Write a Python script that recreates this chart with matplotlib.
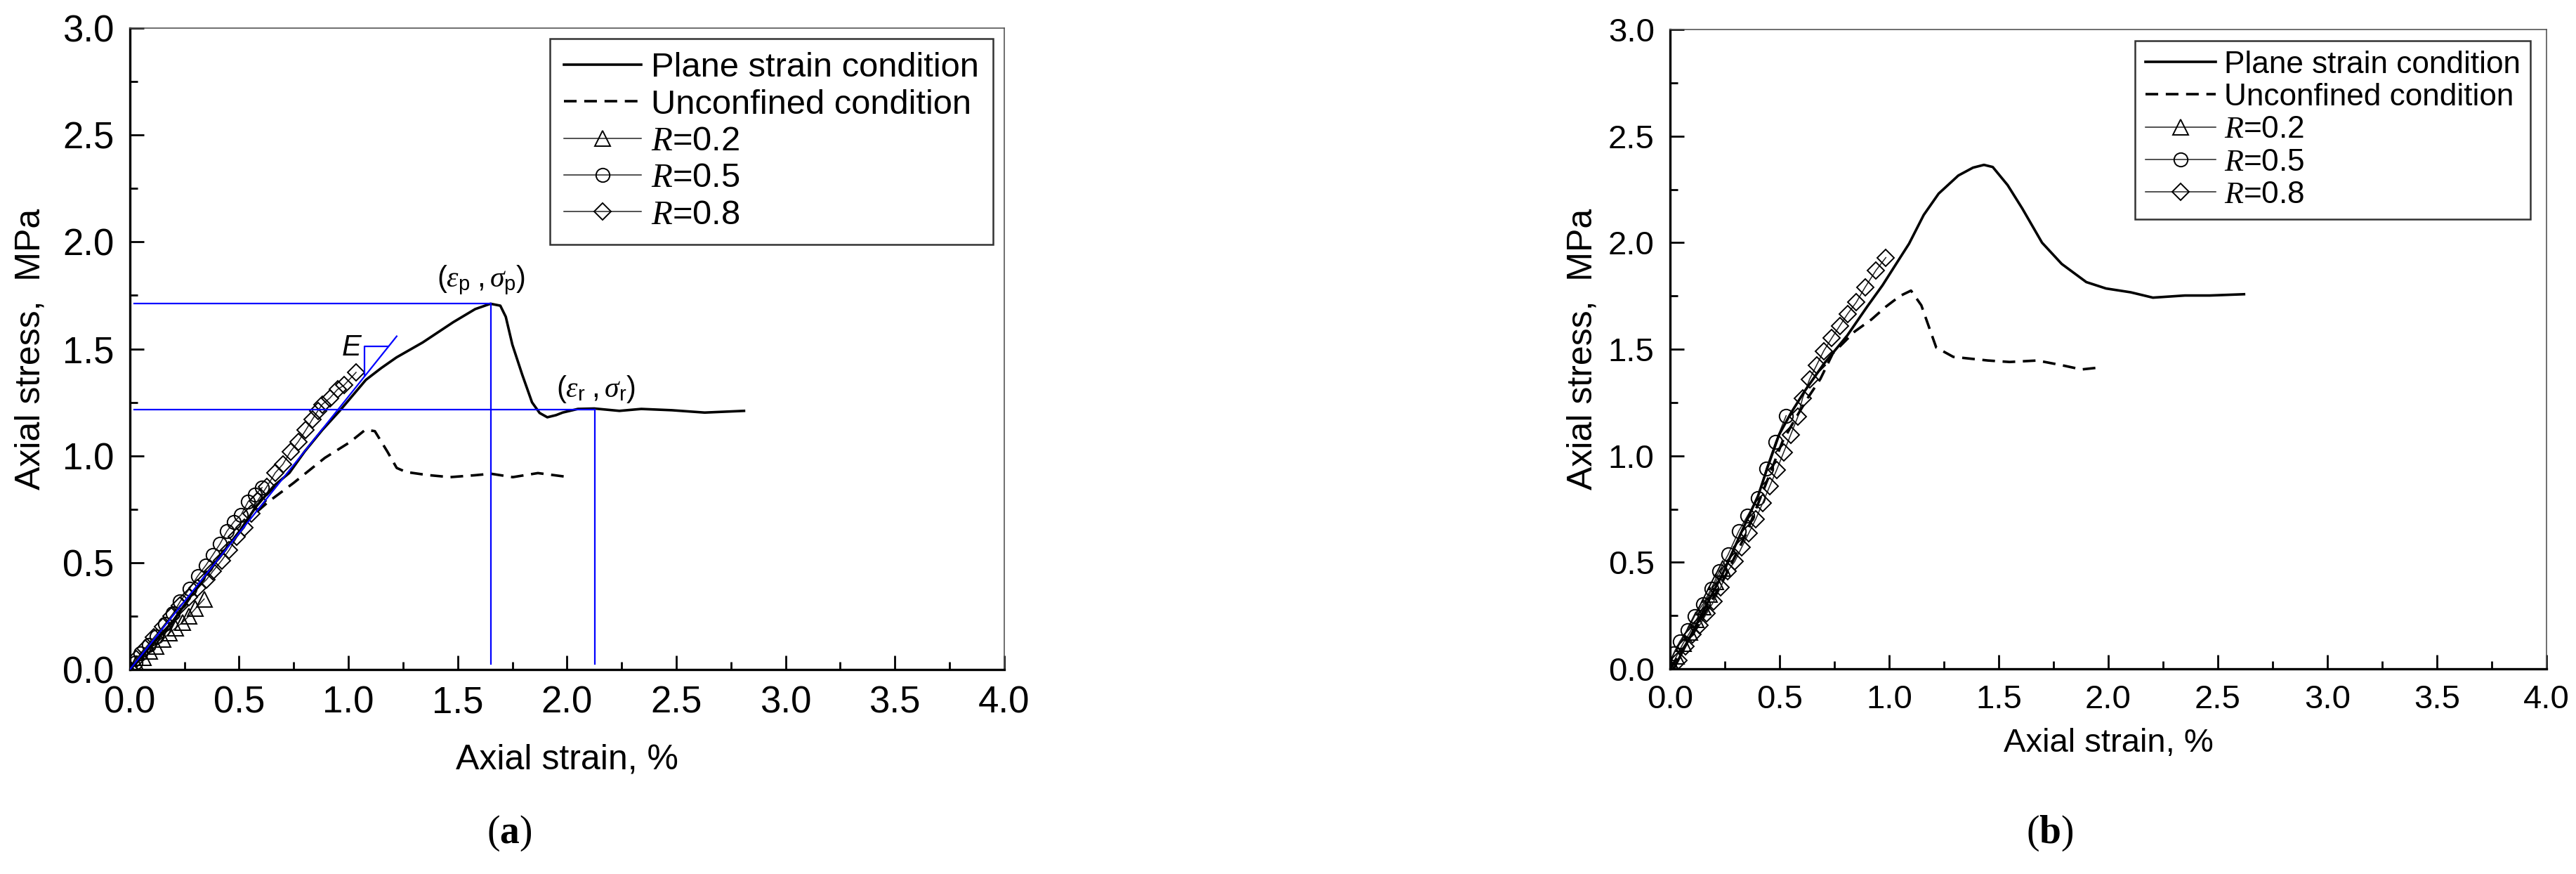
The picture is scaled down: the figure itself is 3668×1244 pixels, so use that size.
import matplotlib
matplotlib.use("Agg")
import matplotlib.pyplot as plt
from matplotlib.ticker import MultipleLocator, FormatStrFormatter

plt.rcParams.update({
    'font.family': 'Liberation Sans',
    'mathtext.fontset': 'custom',
    'mathtext.rm': 'Liberation Sans',
    'mathtext.it': 'Liberation Serif:italic',
    'mathtext.bf': 'Liberation Serif:bold',
})

# ---- panel (a) data: strain (%) / stress (MPa) ----
a_plane_x = [0, 0.10, 0.20, 0.36, 0.50, 0.58, 0.66, 0.73, 0.80, 0.88, 0.96, 1.08, 1.15, 1.22,
             1.34, 1.48, 1.58, 1.65, 1.695, 1.72, 1.75, 1.795, 1.84, 1.875, 1.91, 1.95, 1.98,
             2.05, 2.125, 2.24, 2.34, 2.48, 2.63, 2.81]
a_plane_y = [0, 0.115, 0.23, 0.46, 0.645, 0.765, 0.86, 0.92, 1.02, 1.12, 1.21, 1.355, 1.41, 1.46,
             1.53, 1.625, 1.686, 1.711, 1.702, 1.65, 1.52, 1.38, 1.25, 1.20, 1.18, 1.19, 1.202,
             1.219, 1.221, 1.21, 1.219, 1.213, 1.202, 1.21]

a_unconf_x = [0, 0.2, 0.4, 0.55, 0.633, 0.748, 0.892, 1.006, 1.078, 1.121, 1.178, 1.221, 1.264,
              1.36, 1.465, 1.58, 1.652, 1.752, 1.867, 2.01]
a_unconf_y = [0, 0.23, 0.51, 0.71, 0.784, 0.872, 0.99, 1.063, 1.122, 1.115, 1.02, 0.943, 0.924,
              0.91, 0.90, 0.909, 0.916, 0.90, 0.919, 0.90]

a_r02_x = [0, 0.03, 0.06, 0.09, 0.12, 0.15, 0.18, 0.21, 0.24, 0.27, 0.30, 0.34]
a_r02_y = [0, 0.025, 0.055, 0.085, 0.11, 0.14, 0.17, 0.195, 0.22, 0.25, 0.285, 0.33]

a_r05_x = [0, 0.027, 0.048, 0.086, 0.123, 0.161, 0.198, 0.230, 0.273, 0.311, 0.348, 0.380,
           0.412, 0.444, 0.476, 0.509, 0.541, 0.573, 0.605]
a_r05_y = [0, 0.032, 0.076, 0.114, 0.153, 0.213, 0.263, 0.318, 0.378, 0.438, 0.488, 0.537,
           0.587, 0.647, 0.691, 0.724, 0.785, 0.818, 0.851]

a_r08_x = [0, 0.03, 0.07, 0.11, 0.15, 0.19, 0.23, 0.27, 0.31, 0.35, 0.38, 0.42, 0.455, 0.49,
           0.525, 0.555, 0.585, 0.627, 0.665, 0.70, 0.735, 0.77, 0.805, 0.835, 0.86, 0.88,
           0.915, 0.95, 0.98, 1.035]
a_r08_y = [0, 0.05, 0.10, 0.15, 0.20, 0.25, 0.30, 0.34, 0.38, 0.42, 0.46, 0.51, 0.56, 0.62,
           0.665, 0.73, 0.79, 0.856, 0.92, 0.96, 1.02, 1.065, 1.12, 1.17, 1.21, 1.24, 1.27,
           1.31, 1.33, 1.39]

# characteristic points in (a)
peak_strain, peak_stress = 1.652, 1.711
res_strain, res_stress = 2.128, 1.216
tangent_x = [0, 1.221]
tangent_y = [0, 1.559]
slope_x = [1.075, 1.075, 1.182]
slope_y = [1.373, 1.513, 1.513]

# ---- panel (b) data ----
b_plane_x = [0, 0.017, 0.113, 0.241, 0.338, 0.402, 0.445, 0.498, 0.551, 0.615, 0.701, 0.808,
             0.90, 0.97, 1.035, 1.091, 1.158, 1.226, 1.316, 1.383, 1.433, 1.473, 1.541, 1.608,
             1.698, 1.788, 1.90, 1.99, 2.103, 2.204, 2.35, 2.463, 2.62]
b_plane_y = [0, 0.0, 0.194, 0.448, 0.669, 0.812, 0.945, 1.099, 1.199, 1.304, 1.43, 1.563,
             1.70, 1.80, 1.905, 1.995, 2.13, 2.23, 2.315, 2.352, 2.365, 2.355, 2.27, 2.16,
             2.0, 1.90, 1.815, 1.785, 1.767, 1.742, 1.752, 1.752, 1.758]

b_unconf_x = [0, 0.12, 0.25, 0.35, 0.44, 0.513, 0.57, 0.628, 0.686, 0.743, 0.843, 0.92, 0.986,
              1.05, 1.10, 1.147, 1.181, 1.215, 1.293, 1.451, 1.55, 1.676, 1.788, 1.878, 1.968]
b_unconf_y = [0, 0.19, 0.43, 0.64, 0.874, 1.066, 1.17, 1.27, 1.36, 1.48, 1.583, 1.64, 1.70,
              1.75, 1.775, 1.706, 1.607, 1.508, 1.464, 1.447, 1.44, 1.447, 1.425, 1.405, 1.415]

b_r02_x = [0, 0.03, 0.06, 0.09, 0.12, 0.15, 0.18, 0.21, 0.24]
b_r02_y = [0, 0.06, 0.12, 0.17, 0.23, 0.29, 0.35, 0.41, 0.47]

b_r05_x = [0, 0.017, 0.044, 0.081, 0.113, 0.151, 0.188, 0.225, 0.265, 0.314, 0.354, 0.40,
           0.439, 0.482, 0.53]
b_r05_y = [0, 0.073, 0.128, 0.183, 0.249, 0.305, 0.376, 0.459, 0.536, 0.647, 0.719, 0.801,
           0.939, 1.066, 1.188]

b_r08_x = [0, 0.038, 0.071, 0.103, 0.135, 0.167, 0.199, 0.231, 0.263, 0.295, 0.327, 0.359,
           0.391, 0.423, 0.455, 0.487, 0.519, 0.551, 0.583, 0.605, 0.637, 0.669, 0.701,
           0.738, 0.775, 0.81, 0.85, 0.89, 0.94, 0.985]
b_r08_y = [0, 0.04, 0.106, 0.161, 0.205, 0.26, 0.316, 0.382, 0.459, 0.503, 0.57, 0.636,
           0.702, 0.779, 0.857, 0.934, 1.017, 1.099, 1.182, 1.27, 1.359, 1.425, 1.491,
           1.552, 1.61, 1.665, 1.72, 1.79, 1.87, 1.93]

legend_labels = ['Plane strain condition', 'Unconfined condition',
                 r'$R$=0.2', r'$R$=0.5', r'$R$=0.8']


def style_axes(ax, tick_size):
    ax.set_xlim(0, 4.0)
    ax.set_ylim(0, 3.0)
    ax.xaxis.set_major_locator(MultipleLocator(0.5))
    ax.xaxis.set_minor_locator(MultipleLocator(0.25))
    ax.yaxis.set_major_locator(MultipleLocator(0.5))
    ax.yaxis.set_minor_locator(MultipleLocator(0.25))
    ax.xaxis.set_major_formatter(FormatStrFormatter('%.1f'))
    ax.yaxis.set_major_formatter(FormatStrFormatter('%.1f'))
    ax.tick_params(which='both', direction='in', top=False, right=False,
                   width=1.0, labelsize=tick_size, pad=8)
    ax.tick_params(which='major', length=7.2)
    ax.tick_params(which='minor', length=3.8)
    for s in ('left', 'bottom'):
        ax.spines[s].set_linewidth(1.2)
    for s in ('top', 'right'):
        ax.spines[s].set_linewidth(0.6)
        ax.spines[s].set_color('#555555')


def draw_curves(ax, plane, unconf, r02, r05, r08):
    mk = dict(color='#222222', lw=0.55, mfc='none', mec='black', mew=0.7, zorder=2)
    h3, = ax.plot(*r02, marker='^', ms=8.0, **mk)
    h4, = ax.plot(*r05, marker='o', ms=7.0, **mk)
    h5, = ax.plot(*r08, marker='D', ms=6.3, **mk)
    h1, = ax.plot(*plane, color='black', lw=1.3, zorder=4)
    h2, = ax.plot(*unconf, color='black', lw=1.3, dashes=(5, 3), zorder=4)
    return [h1, h2, h3, h4, h5]


fig = plt.figure(figsize=(18.34, 6.22), dpi=200)
ax1 = fig.add_axes([0.0504, 0.2339, 0.3394, 0.7339])
ax2 = fig.add_axes([0.6483, 0.2347, 0.3402, 0.7315])

# panel (a)
handles = draw_curves(ax1, (a_plane_x, a_plane_y), (a_unconf_x, a_unconf_y),
                      (a_r02_x, a_r02_y), (a_r05_x, a_r05_y), (a_r08_x, a_r08_y))
blue = dict(color='#0000ff', lw=0.8, zorder=5)
ax1.plot([0.02, peak_strain], [peak_stress, peak_stress], **blue)
ax1.plot([peak_strain, peak_strain], [0.025, peak_stress], **blue)
ax1.plot([0.02, res_strain], [res_stress, res_stress], **blue)
ax1.plot([res_strain, res_strain], [0.025, res_stress], **blue)
ax1.plot(tangent_x, tangent_y, **blue)
ax1.plot(slope_x, slope_y, **blue)
ax1.text(1.015, 1.505, 'E', fontsize=15, fontstyle='italic', ha='center', va='center')
ax1.text(1.608, 1.82, r'$(\varepsilon_{\mathrm{p}}\ ,\sigma_{\mathrm{p}})$',
         fontsize=15, ha='center', va='center')
ax1.text(2.133, 1.31, r'$(\varepsilon_{\mathrm{r}}\ ,\sigma_{\mathrm{r}})$',
         fontsize=15, ha='center', va='center')

style_axes(ax1, 19)
ax1.set_xlabel('Axial strain, %', fontsize=18)
ax1.set_ylabel('Axial stress,  MPa', fontsize=18)
ax1.xaxis.set_label_coords(0.5, -0.115)
ax1.yaxis.set_label_coords(-0.095, 0.5)
leg1 = ax1.legend(handles, legend_labels, loc='upper right', bbox_to_anchor=(0.987, 0.984),
                  borderaxespad=0, fontsize=17.6, handlelength=2.25, handletextpad=0.3,
                  borderpad=0.4, labelspacing=0.15, fancybox=False, framealpha=1,
                  edgecolor='#333333')
leg1.get_frame().set_linewidth(0.9)

# panel (b)
handles = draw_curves(ax2, (b_plane_x, b_plane_y), (b_unconf_x, b_unconf_y),
                      (b_r02_x, b_r02_y), (b_r05_x, b_r05_y), (b_r08_x, b_r08_y))
style_axes(ax2, 17)
ax2.set_xlabel('Axial strain, %', fontsize=17)
ax2.set_ylabel('Axial stress,  MPa', fontsize=18)
ax2.xaxis.set_label_coords(0.5, -0.092)
ax2.yaxis.set_label_coords(-0.081, 0.5)
leg2 = ax2.legend(handles, legend_labels, loc='upper right', bbox_to_anchor=(0.982, 0.983),
                  borderaxespad=0, fontsize=15.9, handlelength=2.28, handletextpad=0.27,
                  borderpad=0.32, labelspacing=0.12, fancybox=False, framealpha=1,
                  edgecolor='#333333')
leg2.get_frame().set_linewidth(0.9)

fig.text(0.1977, 0.0466, r'($\mathbf{a}$)', family='Liberation Serif', fontsize=20,
         ha='center', va='center')
fig.text(0.7958, 0.0466, r'($\mathbf{b}$)', family='Liberation Serif', fontsize=20,
         ha='center', va='center')

fig.savefig('out.png', dpi=200)
